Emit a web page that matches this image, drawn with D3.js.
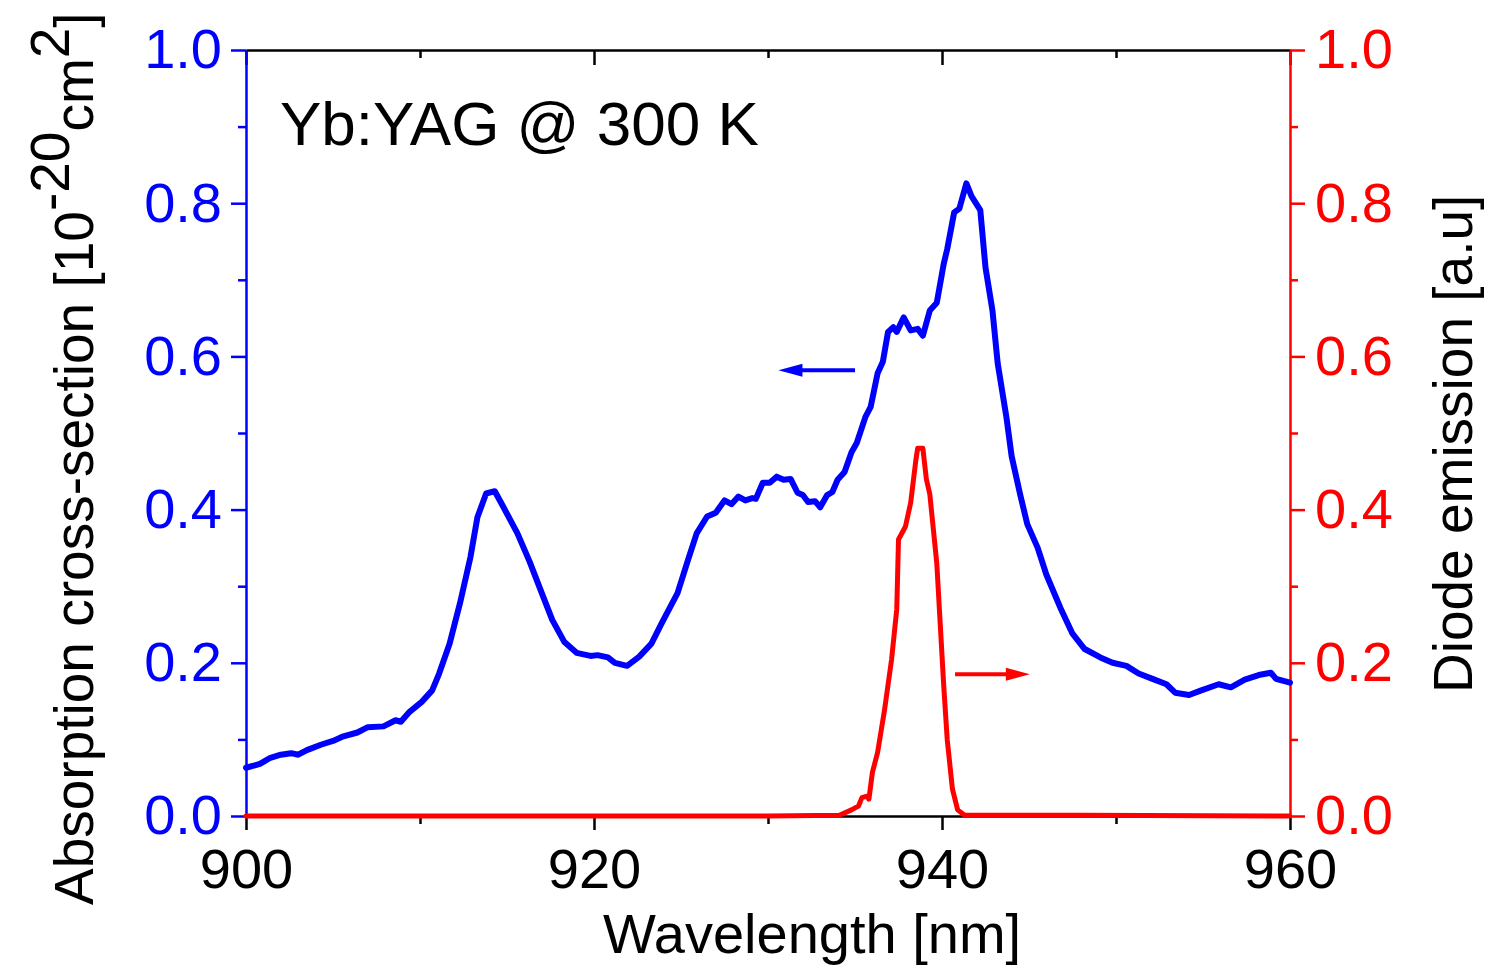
<!DOCTYPE html>
<html>
<head>
<meta charset="utf-8">
<script src="https://cdn.jsdelivr.net/npm/d3@7"></script>
<style>
  body { margin: 0; background: #fff; }
  svg { display: block; font-family: "Liberation Sans", Arial, sans-serif; }
</style>
</head>
<body>
<svg id="chart" width="1485" height="966"></svg>
<script>
// Absorption cross-section of Yb:YAG (blue, left axis)
const absWl = [900.0, 900.8, 901.4, 902.0, 902.6, 903.0, 903.5, 904.3, 905.0, 905.6, 906.4, 907.0, 907.9, 908.6, 908.9,
  909.4, 910.1, 910.7, 911.1, 911.7, 912.3, 912.9, 913.3, 913.8, 914.3, 914.8, 915.6, 916.3, 917.0, 917.6, 918.3, 919.0,
  919.8, 920.2, 920.8, 921.2, 921.9, 922.6, 923.3, 923.9, 924.8, 925.4, 925.9, 926.5, 927.0, 927.5, 927.9, 928.3, 928.7,
  929.1, 929.3, 929.7, 930.1, 930.5, 930.9, 931.3, 931.7, 932.0, 932.3, 932.7, 933.0, 933.4, 933.7, 934.0, 934.4, 934.8,
  935.1, 935.6, 935.9, 936.3, 936.6, 936.9, 937.2, 937.4, 937.8, 938.2, 938.6, 938.9, 939.3, 939.7, 940.1, 940.3, 940.7,
  941.0, 941.4, 941.7, 942.2, 942.5, 942.9, 943.2, 943.7, 944.0, 944.5, 944.9, 945.5, 946.0, 946.8, 947.5, 948.2, 949.1,
  949.8, 950.6, 951.3, 952.1, 952.9, 953.4, 954.2, 954.9, 955.9, 956.6, 957.4, 958.2, 958.9, 959.2, 960.0];
const absVal = [0.063, 0.068, 0.076, 0.080, 0.082, 0.080, 0.086, 0.093, 0.098, 0.104, 0.109, 0.116, 0.117, 0.125, 0.123,
  0.136, 0.149, 0.164, 0.186, 0.225, 0.278, 0.338, 0.390, 0.421, 0.424, 0.403, 0.369, 0.332, 0.291, 0.256, 0.227, 0.213,
  0.209, 0.210, 0.207, 0.200, 0.196, 0.208, 0.225, 0.252, 0.291, 0.334, 0.369, 0.391, 0.396, 0.412, 0.407, 0.417, 0.412,
  0.415, 0.414, 0.435, 0.435, 0.443, 0.439, 0.440, 0.422, 0.419, 0.410, 0.411, 0.403, 0.419, 0.423, 0.439, 0.449, 0.475,
  0.487, 0.521, 0.534, 0.578, 0.593, 0.632, 0.638, 0.632, 0.651, 0.634, 0.636, 0.627, 0.660, 0.670, 0.721, 0.740, 0.788,
  0.793, 0.826, 0.809, 0.791, 0.716, 0.660, 0.591, 0.521, 0.470, 0.419, 0.381, 0.350, 0.315, 0.272, 0.238, 0.218, 0.207,
  0.200, 0.196, 0.186, 0.179, 0.172, 0.161, 0.158, 0.164, 0.172, 0.168, 0.178, 0.184, 0.187, 0.179, 0.174];

// Diode emission (red, right axis)
const diodeWl = [900, 930, 934.1, 934.8, 935.2, 935.4, 935.7, 935.8, 936.0, 936.3, 936.7, 937.1, 937.4, 937.5, 937.9,
  938.2, 938.5, 938.6, 938.9, 939.1, 939.3, 939.7, 939.9, 940.1, 940.3, 940.6, 940.9, 941.3, 948, 960];
const diodeVal = [0, 0, 0.001, 0.008, 0.013, 0.024, 0.026, 0.022, 0.057, 0.083, 0.139, 0.204, 0.270, 0.361, 0.378,
  0.409, 0.465, 0.480, 0.480, 0.440, 0.420, 0.330, 0.250, 0.170, 0.100, 0.035, 0.008, 0.001, 0.001, 0];

const xTicks = [900, 920, 940, 960];
const xMinor = [910, 930, 950];
const yTicks = [0, 0.2, 0.4, 0.6, 0.8, 1.0];
const yMinor = [0.1, 0.3, 0.5, 0.7, 0.9];

const BLUE = '#0000ff';
const RED = '#ff0000';

const svg = d3.select('#chart');
const plotLeft = 246, plotRight = 1290, plotTop = 50, plotBottom = 816;

const x = d3.scaleLinear().domain([900, 960]).range([plotLeft, plotRight]);
const yL = d3.scaleLinear().domain([0, 1]).range([plotBottom, plotTop]);
const yR = d3.scaleLinear().domain([0, 1]).range([plotBottom, plotTop]);

function styleAxis(g, color, fontSize) {
  g.selectAll('path.domain').attr('stroke', color).attr('stroke-width', 2.5);
  g.selectAll('.tick line').attr('stroke', color).attr('stroke-width', 2.5);
  g.selectAll('.tick text').attr('fill', color).style('font-size', fontSize + 'px')
    .style('font-family', '"Liberation Sans", Arial, sans-serif');
}

// top axis (ticks inward, no labels)
svg.append('g').attr('transform', `translate(0,${plotTop})`)
  .call(d3.axisBottom(x).tickValues(xTicks).tickSize(15).tickSizeOuter(0).tickFormat(''))
  .call(g => styleAxis(g, '#000', 56));
svg.append('g').attr('transform', `translate(0,${plotTop})`)
  .call(d3.axisBottom(x).tickValues(xMinor).tickSize(8).tickFormat(''))
  .call(g => { g.select('.domain').remove(); styleAxis(g, '#000', 56); });

// bottom axis
svg.append('g').attr('transform', `translate(0,${plotBottom})`)
  .call(d3.axisBottom(x).tickValues(xTicks).tickSize(14).tickSizeOuter(0).tickPadding(18).tickFormat(d3.format('d')))
  .call(g => styleAxis(g, '#000', 56));
svg.append('g').attr('transform', `translate(0,${plotBottom})`)
  .call(d3.axisBottom(x).tickValues(xMinor).tickSize(8).tickFormat(''))
  .call(g => { g.select('.domain').remove(); styleAxis(g, '#000', 56); });

// left axis
svg.append('g').attr('transform', `translate(${plotLeft},0)`)
  .call(d3.axisLeft(yL).tickValues(yTicks).tickSize(15).tickSizeOuter(0).tickPadding(9).tickFormat(d3.format('.1f')))
  .call(g => styleAxis(g, BLUE, 56));
svg.append('g').attr('transform', `translate(${plotLeft},0)`)
  .call(d3.axisLeft(yL).tickValues(yMinor).tickSize(8).tickFormat(''))
  .call(g => { g.select('.domain').remove(); styleAxis(g, BLUE, 56); });

// right axis
svg.append('g').attr('transform', `translate(${plotRight},0)`)
  .call(d3.axisRight(yR).tickValues(yTicks).tickSize(15).tickSizeOuter(0).tickPadding(10).tickFormat(d3.format('.1f')))
  .call(g => styleAxis(g, RED, 56));
svg.append('g').attr('transform', `translate(${plotRight},0)`)
  .call(d3.axisRight(yR).tickValues(yMinor).tickSize(8).tickFormat(''))
  .call(g => { g.select('.domain').remove(); styleAxis(g, RED, 56); });

// curves
const absLine = d3.line().x(i => x(absWl[i])).y(i => yL(absVal[i]));
svg.append('path')
  .attr('d', absLine(d3.range(absWl.length)))
  .attr('fill', 'none').attr('stroke', BLUE).attr('stroke-width', 6)
  .attr('stroke-linejoin', 'round').attr('stroke-linecap', 'round');

const diodeLine = d3.line().x(i => x(diodeWl[i])).y(i => yR(diodeVal[i]));
svg.append('path')
  .attr('d', diodeLine(d3.range(diodeWl.length)))
  .attr('fill', 'none').attr('stroke', RED).attr('stroke-width', 5)
  .attr('stroke-linejoin', 'round').attr('stroke-linecap', 'round');

// arrows pointing to the axes
function arrow(x1, x2, yv, color) {
  const dir = Math.sign(x2 - x1);
  const head = 24, half = 6.5;
  svg.append('line')
    .attr('x1', x1).attr('x2', x2 - dir * head + dir * 2)
    .attr('y1', yv).attr('y2', yv)
    .attr('stroke', color).attr('stroke-width', 4);
  svg.append('path')
    .attr('d', `M${x2},${yv}L${x2 - dir * head},${yv - half}L${x2 - dir * head},${yv + half}Z`)
    .attr('fill', color);
}
arrow(x(935.0), x(930.6), yL(0.582), BLUE);
arrow(x(940.75), x(945.05), yR(0.185), RED);

// title
svg.append('text')
  .attr('x', 280).attr('y', 145)
  .style('font-size', '62px').attr('fill', '#000')
  .text('Yb:YAG @ 300 K');

// axis titles
svg.append('text')
  .attr('x', 603).attr('y', 953)
  .style('font-size', '56px').attr('fill', '#000')
  .text('Wavelength [nm]');

const yTitle = svg.append('text')
  .attr('transform', 'translate(93,905) rotate(-90)')
  .style('font-size', '55px').attr('fill', '#000');
yTitle.append('tspan').text('Absorption cross-section [10');
yTitle.append('tspan').attr('dy', -24).text('-20');
yTitle.append('tspan').attr('dy', 24).text('cm');
yTitle.append('tspan').attr('dy', -24).text('2');
yTitle.append('tspan').attr('dy', 24).text(']');

svg.append('text')
  .attr('transform', 'translate(1472,693) rotate(-90)')
  .style('font-size', '55px').attr('fill', '#000')
  .text('Diode emission [a.u]');
</script>
</body>
</html>
